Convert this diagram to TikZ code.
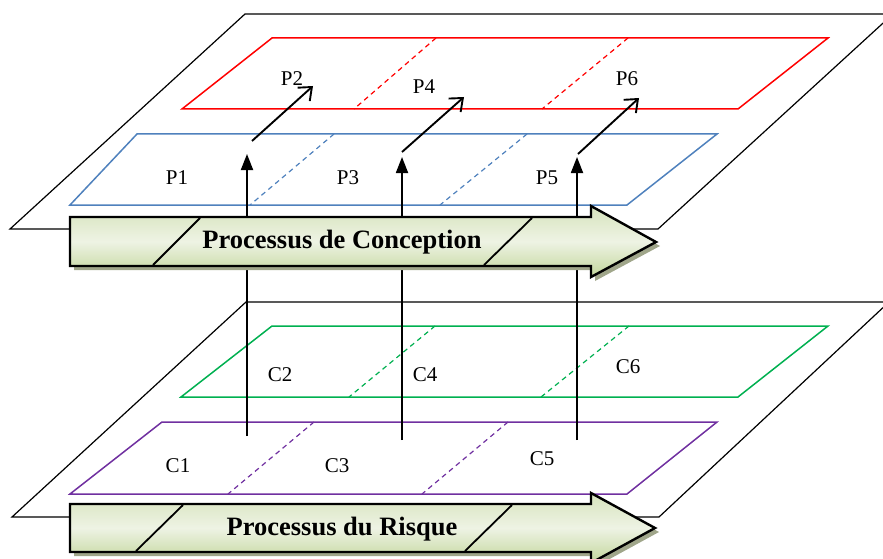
\documentclass[tikz,border=0pt]{standalone}
\usepackage{fontspec}
\setmainfont{Liberation Serif}
\usetikzlibrary{arrows.meta}
\definecolor{redline}{RGB}{255,0,0}
\definecolor{blueline}{RGB}{79,129,189}
\definecolor{greenline}{RGB}{0,176,80}
\definecolor{purpleline}{RGB}{112,48,160}
\definecolor{olivetop}{RGB}{214,227,188}
\definecolor{olivemid}{RGB}{238,243,228}
\definecolor{olivebot}{RGB}{194,214,155}
\definecolor{shadowcol}{RGB}{160,166,138}
\tikzset{
  plane/.style={draw=black, line width=1.2pt},
  layer/.style={line width=1.5pt},
  divider/.style={line width=1.2pt, dash pattern=on 5pt off 4pt},
  lbl/.style={font=\fontsize{21}{24}\selectfont, inner sep=0pt},
  title/.style={font=\fontsize{26.5}{30}\selectfont\bfseries, inner sep=0pt},
  uparrow/.style={line width=1.8pt, -{Triangle[length=16pt,width=12pt]}},
  nextarrow/.style={line width=1.9pt, -{Straight Barb[length=11pt,width=18pt,line width=1.9pt]}},
  band/.style={draw=black, line width=2.4pt, line join=miter, top color=olivetop, bottom color=olivebot, middle color=olivemid},
  bandshadow/.style={fill=shadowcol},
  slant/.style={line width=1.8pt}
}
\begin{document}
\begin{tikzpicture}[x=1pt,y=-1pt]
\useasboundingbox (0,0) rectangle (883,559);
\clip (0,0) rectangle (883,559);

% ---------- upper plane: design process ----------
\draw[plane] (245,14) -- (893,14) -- (658,229) -- (10,229) -- cycle;
\draw[layer, redline] (272,38) -- (828,38) -- (738,109) -- (182,109) -- cycle;
\draw[divider, redline] (436,38) -- (354,109);
\draw[divider, redline] (628,38) -- (542,109);
\draw[layer, blueline] (137,134) -- (717,134) -- (627,205) -- (70,205) -- cycle;
\draw[divider, blueline] (334,134) -- (250,205);
\draw[divider, blueline] (527,134) -- (440,205);

\node[lbl] (p1) at (177,178) {P1};
\node[lbl] (p3) at (348,178) {P3};
\node[lbl] (p5) at (547,178) {P5};
\node[lbl] (p2) at (292,79) {P2};
\node[lbl] (p4) at (424,87) {P4};
\node[lbl] (p6) at (627,79) {P6};

% ---------- lower plane: risk process ----------
\draw[plane] (246,302) -- (889,302) -- (659,517) -- (12,517) -- cycle;
\draw[layer, greenline] (272,326) -- (828,326) -- (738,397) -- (181,397) -- cycle;
\draw[divider, greenline] (435,326) -- (349,397);
\draw[divider, greenline] (629,326) -- (541,397);
\draw[layer, purpleline] (162,422) -- (717,422) -- (627,494) -- (70,494) -- cycle;
\draw[divider, purpleline] (314,422) -- (228,494);
\draw[divider, purpleline] (508,422) -- (422,494);

\node[lbl] (c2) at (280,375) {C2};
\node[lbl] (c4) at (425,375) {C4};
\node[lbl] (c6) at (628,367) {C6};
\node[lbl] (c1) at (178,466) {C1};
\node[lbl] (c3) at (337,466) {C3};
\node[lbl] (c5) at (542,459) {C5};

% ---------- links from risk layer to design layer ----------
\coordinate (r1) at (247,436);
\coordinate (r2) at (402,440);
\coordinate (r3) at (577,440);
\coordinate (u1) at (247,154);
\coordinate (u2) at (402,157);
\coordinate (u3) at (577,157);
\draw[uparrow] (r1) -- (u1);
\draw[uparrow] (r2) -- (u2);
\draw[uparrow] (r3) -- (u3);

\coordinate (s1) at (252,141);
\coordinate (s2) at (402,152);
\coordinate (s3) at (578,154);
\coordinate (t1) at (313,86);
\coordinate (t2) at (464,97);
\coordinate (t3) at (639,98);
\draw[nextarrow] (s1) -- (t1);
\draw[nextarrow] (s2) -- (t2);
\draw[nextarrow] (s3) -- (t3);

% ---------- process bands ----------
\fill[bandshadow] (74,221) -- (595,221) -- (595,210) -- (660,246) -- (595,281) -- (595,270) -- (74,270) -- cycle;
\path[band] (70,217) -- (591,217) -- (591,206) -- (656,242) -- (591,277) -- (591,266) -- (70,266) -- cycle;
\draw[slant] (200,218) -- (153,265);
\draw[slant] (532,218) -- (484,265);
\node[title] (design) at (342,242) {Processus de Conception};

\fill[bandshadow] (74,508) -- (595,508) -- (595,497) -- (659,532) -- (595,567) -- (595,556) -- (74,556) -- cycle;
\path[band] (70,504) -- (591,504) -- (591,493) -- (655,528) -- (591,563) -- (591,552) -- (70,552) -- cycle;
\draw[slant] (183,505) -- (136,551);
\draw[slant] (512,505) -- (465,551);
\node[title] (risk) at (342,529) {Processus du Risque};
\end{tikzpicture}
\end{document}
